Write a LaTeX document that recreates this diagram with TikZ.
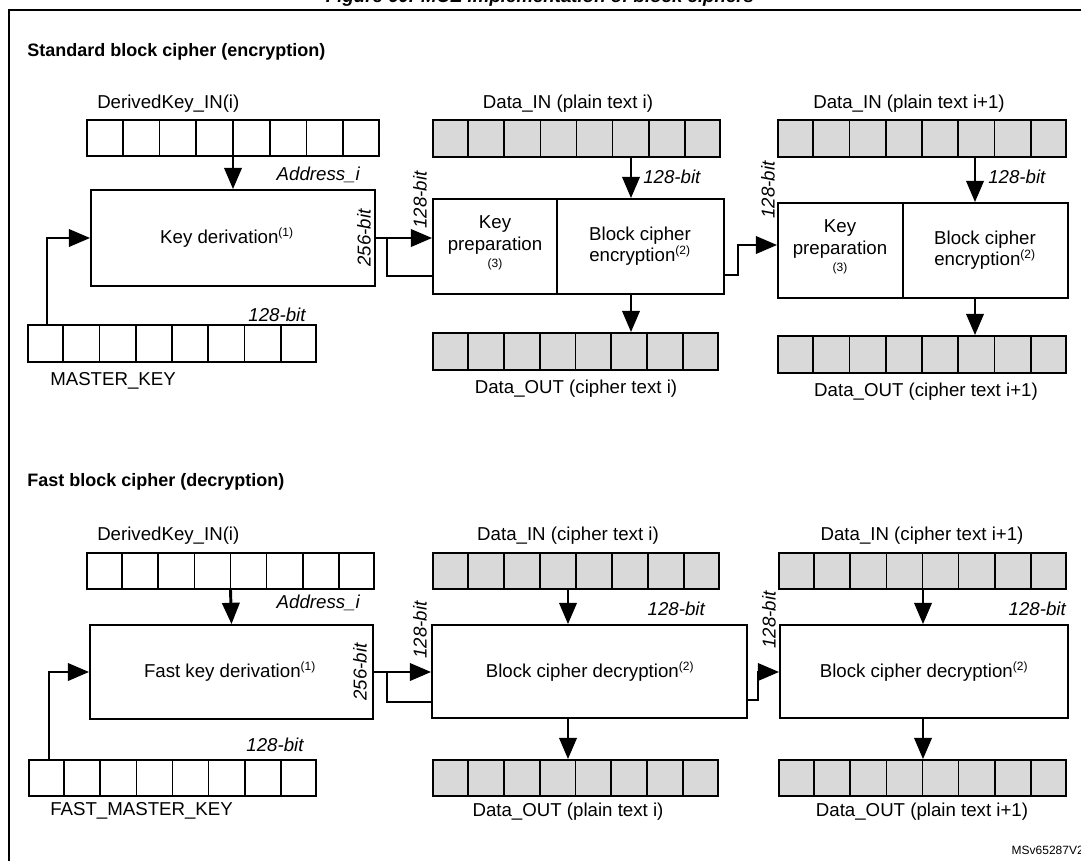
\documentclass[tikz,border=0pt]{standalone}
\usepackage{fontspec}
\setmainfont{Liberation Sans}
\usetikzlibrary{arrows.meta,fit,calc}
\begin{document}
\begin{tikzpicture}[x=0.75pt,y=-0.75pt,
  box/.style={draw,line width=1.3pt,inner sep=0pt},
  conn/.style={line width=2.2pt,-{Triangle[length=16pt,width=13pt]}},
  wire/.style={line width=2.2pt},
  lbl/.style={font=\fontsize{14}{16}\selectfont,inner sep=0pt},
  bit/.style={font=\fontsize{14}{16}\selectfont\itshape,inner sep=0pt},
  head/.style={font=\fontsize{13.5}{16}\selectfont\bfseries,inner sep=0pt,anchor=west}]
\useasboundingbox (0,0) rectangle (1081,860);
\newcommand\mreg[6]{\node[box,fill=#6,fit={(#2,#4)(#3,#5)}](#1){};
  \foreach \i in {1,...,7} \draw[line width=1.3pt] ($(#1.north west)!\i/8!(#1.north east)$) -- ($(#1.south west)!\i/8!(#1.south east)$);}
\newcommand\xbox[5]{\node[box,fit={(#2,#3)(#4,#5)}](#1){};}
\colorlet{g}{black!15}
% frame and title
\node[font=\fontsize{14}{16}\selectfont\bfseries\itshape,inner sep=0pt] (title) at (540,-2) {Figure 60. MCE implementation of block ciphers};
\draw[line width=1.5pt] (9,1000) -- (9,10) -- (1200,10);
% ===== top
\node[head] (h1) at (27,52) {Standard block cipher (encryption)};
\mreg{dk1}{87}{379}{120}{156}{white}
\node[lbl,anchor=west] (dk1l) at (97,104) {DerivedKey\_IN(i)};
\xbox{kd1}{91}{190}{375}{286}
\node[lbl] (kd1t) at (227,238) {Key derivation\textsuperscript{\fontsize{9}{9}\selectfont(1)}};
\node[bit,rotate=90] (kd1b) at (364,238) {256-bit};
\node[bit,anchor=east] (ad1) at (360,175) {Address\_i};
\draw[conn] (dk1.south) -- (kd1.north);
\mreg{mk1}{28}{316}{325}{362}{white}
\node[bit] (mk1b) at (277,315) {128-bit};
\node[lbl,anchor=west] (mk1l) at (50,381) {MASTER\_KEY};
\coordinate (c1) at (47,238);
\draw[conn] (mk1.north west -| c1) -- (c1) -- (kd1.west |- c1);
\xbox{kp1}{433}{199}{557}{294}
\xbox{be1}{557}{199}{724}{294}
\node[lbl,align=center] (kp1t) at (495,243) {Key\\preparation\\[-3pt]{\fontsize{9}{9}\selectfont(3)}};
\node[lbl,align=center] (be1t) at (640,246) {Block cipher\\encryption\textsuperscript{\fontsize{9}{9}\selectfont(2)}};
\coordinate (s1) at (387,238);
\draw[conn] (kd1.east |- s1) -- (kp1.west |- s1);
\draw[wire] (s1) -- (387,276) -- (kp1.west |- 0,276);
\node[bit,rotate=90] (b1) at (420,200) {128-bit};
\mreg{di1}{433}{720}{120}{157}{g}
\node[lbl] (di1l) at (568,104) {Data\_IN (plain text i)};
\draw[conn] (di1.south -| 631,0) -- (be1.north -| 631,0);
\node[bit,anchor=west] (di1b) at (643,177) {128-bit};
\mreg{do1}{433}{718}{333}{370}{g}
\node[lbl] (do1l) at (576,389) {Data\_OUT (cipher text i)};
\draw[conn] (be1.south -| 631,0) -- (do1.north -| 631,0);
\xbox{kp2}{778}{203}{903}{298}
\xbox{be2}{903}{203}{1068}{298}
\node[lbl,align=center] (kp2t) at (840,247) {Key\\preparation\\[-3pt]{\fontsize{9}{9}\selectfont(3)}};
\node[lbl,align=center] (be2t) at (985,250) {Block cipher\\encryption\textsuperscript{\fontsize{9}{9}\selectfont(2)}};
\draw[conn] (be1.east |- 0,275) -- (738,275) -- (738,245) -- (kp2.west |- 0,245);
\node[bit,rotate=90] (b2) at (768,190) {128-bit};
\mreg{di2}{778}{1066}{120}{157}{g}
\node[lbl] (di2l) at (909,104) {Data\_IN (plain text i+1)};
\draw[conn] (di2.south -| 975,0) -- (be2.north -| 975,0);
\node[bit,anchor=west] (di2b) at (988,177) {128-bit};
\mreg{do2}{778}{1066}{336}{373}{g}
\node[lbl] (do2l) at (926,392) {Data\_OUT (cipher text i+1)};
\draw[conn] (be2.south -| 975,0) -- (do2.north -| 975,0);
% ===== bottom
\node[head] (h2) at (27,482) {Fast block cipher (decryption)};
\mreg{dk3}{87}{374}{553}{589}{white}
\node[lbl,anchor=west] (dk3l) at (97,536) {DerivedKey\_IN(i)};
\xbox{kd3}{90}{625}{373}{719}
\node[lbl] (kd3t) at (230,672) {Fast key derivation\textsuperscript{\fontsize{9}{9}\selectfont(1)}};
\node[bit,rotate=90] (kd3b) at (360,672) {256-bit};
\node[bit,anchor=east] (ad3) at (360,603) {Address\_i};
\draw[conn] (dk3.south) -- (kd3.north);
\mreg{mk3}{29}{316}{760}{796}{white}
\node[bit] (mk3b) at (275,745) {128-bit};
\node[lbl,anchor=west] (mk3l) at (50,811) {FAST\_MASTER\_KEY};
\coordinate (c3) at (49,672);
\draw[conn] (mk3.north west -| c3) -- (c3) -- (kd3.west |- c3);
\xbox{bd3}{432}{625}{747}{718}
\node[lbl] (bd3t) at (590,672) {Block cipher decryption\textsuperscript{\fontsize{9}{9}\selectfont(2)}};
\coordinate (s3) at (387,672);
\draw[conn] (kd3.east |- s3) -- (bd3.west |- s3);
\draw[wire] (s3) -- (387,702) -- (bd3.west |- 0,702);
\node[bit,rotate=90] (b3) at (420,630) {128-bit};
\mreg{di3}{433}{719}{553}{589}{g}
\node[lbl] (di3l) at (568,536) {Data\_IN (cipher text i)};
\draw[conn] (di3.south -| 568,0) -- (bd3.north -| 568,0);
\node[bit,anchor=east] (di3b) at (705,609) {128-bit};
\mreg{do3}{433}{718}{760}{796}{g}
\node[lbl] (do3l) at (568,812) {Data\_OUT (plain text i)};
\draw[conn] (bd3.south -| 568,0) -- (do3.north -| 568,0);
\xbox{bd4}{780}{625}{1068}{718}
\node[lbl] (bd4t) at (924,672) {Block cipher decryption\textsuperscript{\fontsize{9}{9}\selectfont(2)}};
\draw[conn] (bd3.east |- 0,700) -- (758,700) -- (758,672) -- (bd4.west |- 0,672);
\node[bit,rotate=90] (b4) at (769,620) {128-bit};
\mreg{di4}{779}{1066}{553}{589}{g}
\node[lbl] (di4l) at (922,536) {Data\_IN (cipher text i+1)};
\draw[conn] (di4.south -| 923,0) -- (bd4.north -| 923,0);
\node[bit,anchor=east] (di4b) at (1066,609) {128-bit};
\mreg{do4}{779}{1066}{760}{796}{g}
\node[lbl] (do4l) at (922,812) {Data\_OUT (plain text i+1)};
\draw[conn] (bd4.south -| 923,0) -- (do4.north -| 923,0);
\node[font=\fontsize{9}{10}\selectfont,anchor=east,inner sep=0pt] (ms) at (1084,850) {MSv65287V2};
\end{tikzpicture}
\end{document}
